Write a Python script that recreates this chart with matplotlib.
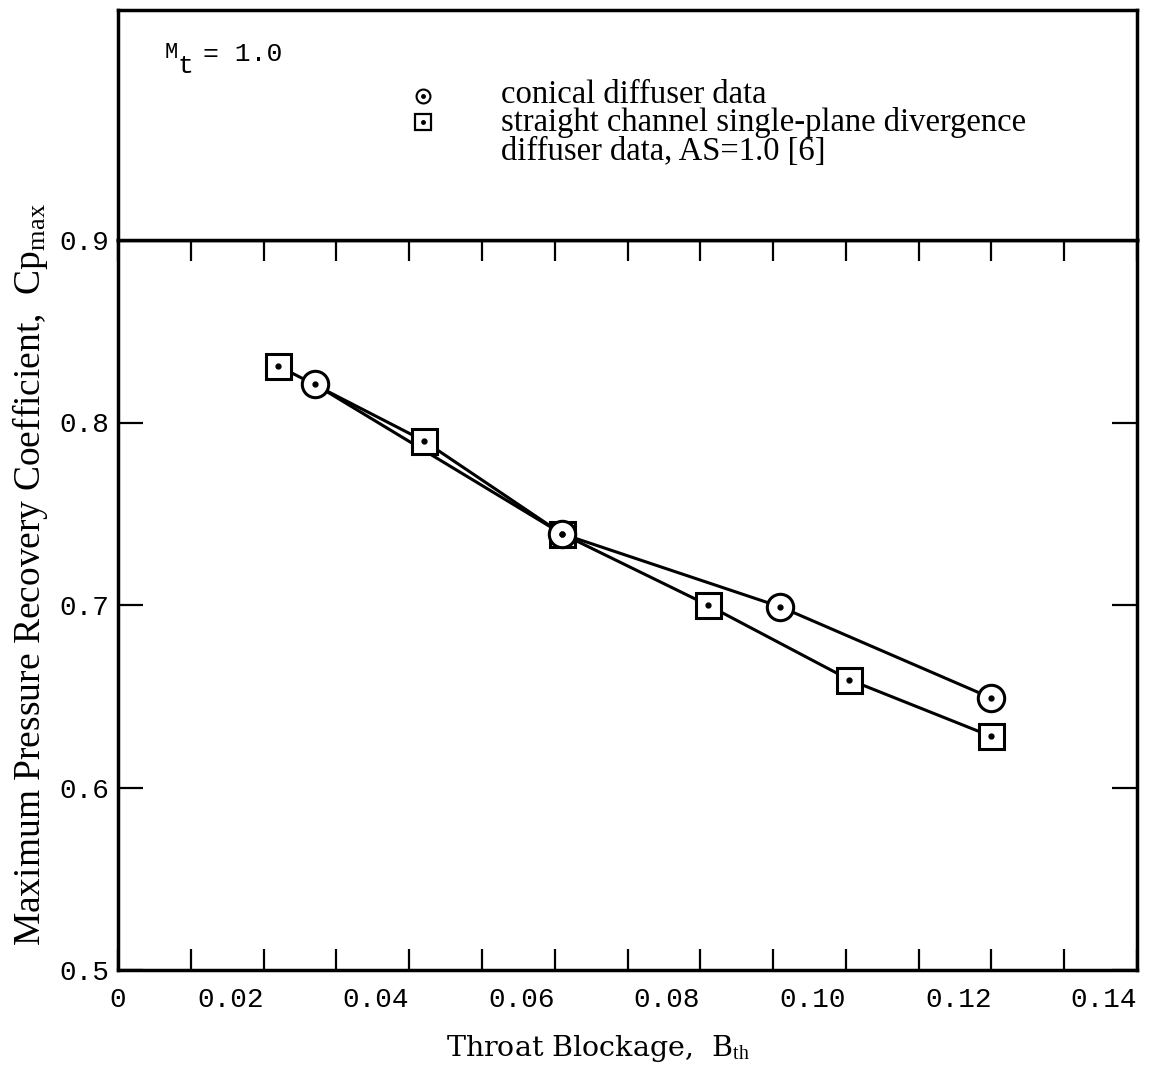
import matplotlib
matplotlib.use('Agg')
import matplotlib.pyplot as plt
import numpy as np

# data
cone_x = [0.027, 0.061, 0.091, 0.120]
cone_y = [0.821, 0.739, 0.699, 0.649]
chan_x = [0.022, 0.042, 0.061, 0.081, 0.1005, 0.120]
chan_y = [0.831, 0.790, 0.739, 0.700, 0.659, 0.628]

x_ticks = [0.00, 0.01, 0.02, 0.03, 0.04, 0.05, 0.06, 0.07, 0.08, 0.09, 0.10, 0.11, 0.12, 0.13, 0.14]
x_labels = ['0', '', '0.02', '', '0.04', '', '0.06', '', '0.08', '', '0.10', '', '0.12', '', '0.14']
y_ticks = [0.5, 0.6, 0.7, 0.8, 0.9]
y_labels = ['0.5', '0.6', '0.7', '0.8', '0.9']

serif = 'Liberation Serif'
mono = 'Liberation Mono'
plt.rcParams['mathtext.fontset'] = 'custom'
plt.rcParams['mathtext.rm'] = serif
plt.rcParams['mathtext.it'] = serif + ':italic'

W, H = 1171, 1074
fig = plt.figure(figsize=(W / 100, H / 100), dpi=100)

left, right = 118 / W, 1137 / W
y_bot = (H - 970) / H
y_mid = (H - 240) / H
y_top = (H - 10) / H

ax = fig.add_axes([left, y_bot, right - left, y_mid - y_bot])
ax_top = fig.add_axes([left, y_mid, right - left, y_top - y_mid])

lw = 2.2
ax.plot(chan_x, chan_y, color='black', lw=lw, zorder=2)
ax.plot(cone_x, cone_y, color='black', lw=lw, zorder=2)
ax.plot(chan_x, chan_y, ls='none', marker='s', ms=18, mfc='white', mec='black', mew=2.2, zorder=3)
ax.plot(cone_x, cone_y, ls='none', marker='o', ms=19, mfc='white', mec='black', mew=2.2, zorder=4)
ax.plot(chan_x + cone_x, chan_y + cone_y, ls='none', marker='o', ms=3.5, color='black', zorder=5)

ax.set_xlim(0, 0.14)
ax.set_ylim(0.5, 0.9)
ax.set_xticks(x_ticks)
ax.set_xticklabels(x_labels, fontfamily=mono, fontsize=20)
for t, lab in zip(ax.get_xticklabels(), x_labels):
    t.set_ha('center' if lab == '0' else 'right')
ax.set_yticks(y_ticks)
ax.set_yticklabels(y_labels, fontfamily=mono, fontsize=20)
ax.tick_params(axis='x', direction='in', length=15, width=1.6, top=True, pad=12)
ax.tick_params(axis='y', direction='in', length=18, width=1.6, right=True, pad=6)
for s in ax.spines.values():
    s.set_linewidth(2.5)

ax_top.set_xlim(0, 1)
ax_top.set_ylim(0, 1)
ax_top.set_xticks([])
ax_top.set_yticks([])
for s in ax_top.spines.values():
    s.set_linewidth(2.5)

# M_t = 1.0
ax_top.text(0.046, 0.815, 'M', fontfamily=mono, fontsize=16, va='center', ha='left', transform=ax_top.transAxes)
ax_top.text(0.058, 0.755, 't', fontfamily=mono, fontsize=19, va='center', ha='left', transform=ax_top.transAxes)
ax_top.text(0.083, 0.81, '= 1.0', fontfamily=mono, fontsize=19, va='center', ha='left', transform=ax_top.transAxes)

# legend
ax_top.plot([0.299], [0.625], marker='o', ms=10, mfc='white', mec='black', mew=1.5, transform=ax_top.transAxes)
ax_top.plot([0.299], [0.625], marker='o', ms=2.5, color='black', transform=ax_top.transAxes)
ax_top.plot([0.299], [0.512], marker='s', ms=11.5, mfc='white', mec='black', mew=1.6, transform=ax_top.transAxes)
ax_top.plot([0.299], [0.512], marker='o', ms=2.5, color='black', transform=ax_top.transAxes)
ax_top.text(0.376, 0.63, 'conical diffuser data', fontfamily=serif, fontsize=23.5, va='center', transform=ax_top.transAxes)
ax_top.text(0.376, 0.509, 'straight channel single-plane divergence', fontfamily=serif, fontsize=23.5, va='center', transform=ax_top.transAxes)
ax_top.text(0.376, 0.383, 'diffuser data, AS=1.0 [6]', fontfamily=serif, fontsize=23.5, va='center', transform=ax_top.transAxes)

fig.text(30 / W, 1 - 575 / H, 'Maximum Pressure Recovery Coefficient,  Cp$_{\\mathrm{max}}$',
         fontfamily=serif, fontsize=27, rotation=90, ha='center', va='center')
fig.text(598 / W, 1 - 1056 / H, 'Throat Blockage,  B$_{\\mathrm{th}}$',
         fontfamily='DejaVu Serif', fontsize=20.5, ha='center', va='baseline')

fig.savefig('out.png', dpi=100)
